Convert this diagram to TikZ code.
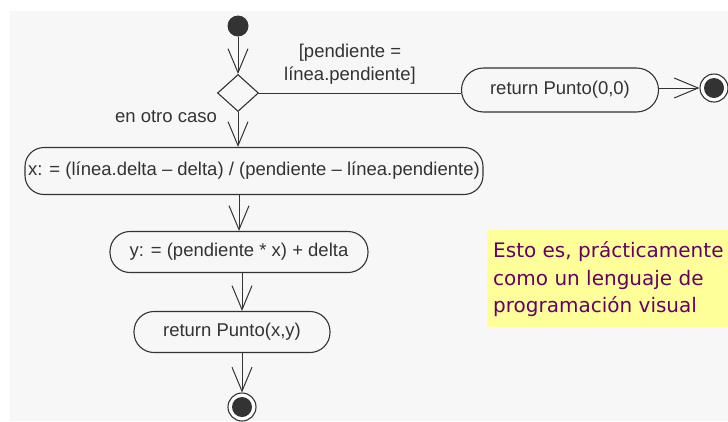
\documentclass[tikz,border=0pt]{standalone}
\usepackage{fontspec}
\setmainfont{Liberation Sans}
\newfontfamily\notefont{DejaVu Sans}
\usetikzlibrary{shapes.geometric,arrows.meta}
\definecolor{ink}{HTML}{333333}
\definecolor{scanbg}{HTML}{F7F7F7}
\definecolor{noteyellow}{HTML}{FFFF99}
\definecolor{notetext}{HTML}{660066}
\tikzset{
  act/.style={draw=ink, line width=1.1pt, rounded corners=19pt, inner sep=0pt,
    font=\fontsize{18.5}{22}\selectfont, text=ink},
  lbl/.style={inner sep=0pt, font=\fontsize{18.5}{23}\selectfont, text=ink, align=center},
  flow/.style={draw=ink, line width=1pt, -{Straight Barb[length=24pt, width=20pt, line width=1pt]}},
  plain/.style={draw=ink, line width=1pt},
  startdot/.style={circle, fill=ink, minimum size=21pt, inner sep=0pt},
  decision/.style={diamond, draw=ink, line width=1.1pt, minimum width=41pt, minimum height=37pt, inner sep=0pt},
  endstate/.style={circle, draw=ink, line width=1.1pt, fill=white, minimum size=28pt, inner sep=0pt,
    path picture={\fill[ink] (path picture bounding box.center) circle (10pt);}},
  notetxt/.style={inner sep=0pt, align=left, text=notetext, font=\notefont\fontsize{20}{27.5}\selectfont}
}
\begin{document}
\begin{tikzpicture}[x=1pt,y=-1pt]
\useasboundingbox (0,0) rectangle (728,421);
\fill[white] (0,0) rectangle (728,421);
\fill[scanbg] (10,11) rectangle (728,421);

% nodes
\node[startdot] (start) at (238,26) {};
\node[decision] (dec) at (238,93) {};
\node[act, rounded corners=22pt, minimum width=197pt, minimum height=44pt] (ret0) at (560,90) {return Punto(0,0)};
\node[endstate] (end0) at (714,88) {};
\node[act, minimum width=458pt, minimum height=47pt] (xa) at (254,171)
  {x: = (línea.delta – delta) / (pendiente – línea.pendiente)};
\node[act, rounded corners=20pt, minimum width=258pt, minimum height=41pt] (ya) at (239,252) {y: = (pendiente * x) + delta};
\node[act, rounded corners=20pt, minimum width=196pt, minimum height=41pt] (ra) at (232,332) {return Punto(x,y)};
\node[endstate] (end1) at (242,407) {};

% labels
\node[lbl] (guard) at (350,64) {[pendiente =\\línea.pendiente]};
\node[lbl] (other) at (166,117) {en otro caso};

% connectors
\draw[flow] (start) -- (dec.north);
\draw[plain] (dec.east) -- (ret0.west |- dec.east);
\draw[flow] (ret0.east |- end0.west) -- (end0.west);
\draw[flow] (dec.south) -- (dec.south |- xa.north);
\draw[flow] (ya.north |- xa.south) -- (ya.north);
\draw[flow] (end1.north |- ya.south) -- (end1.north |- ra.north);
\draw[flow] (end1.north |- ra.south) -- (end1.north);

% note
\fill[noteyellow] (487,230) rectangle (728,327);
\node[notetxt, anchor=north west] (note) at (493,241.5)
  {Esto es, prácticamente\\como un lenguaje de\\programación visual};
\end{tikzpicture}
\end{document}
